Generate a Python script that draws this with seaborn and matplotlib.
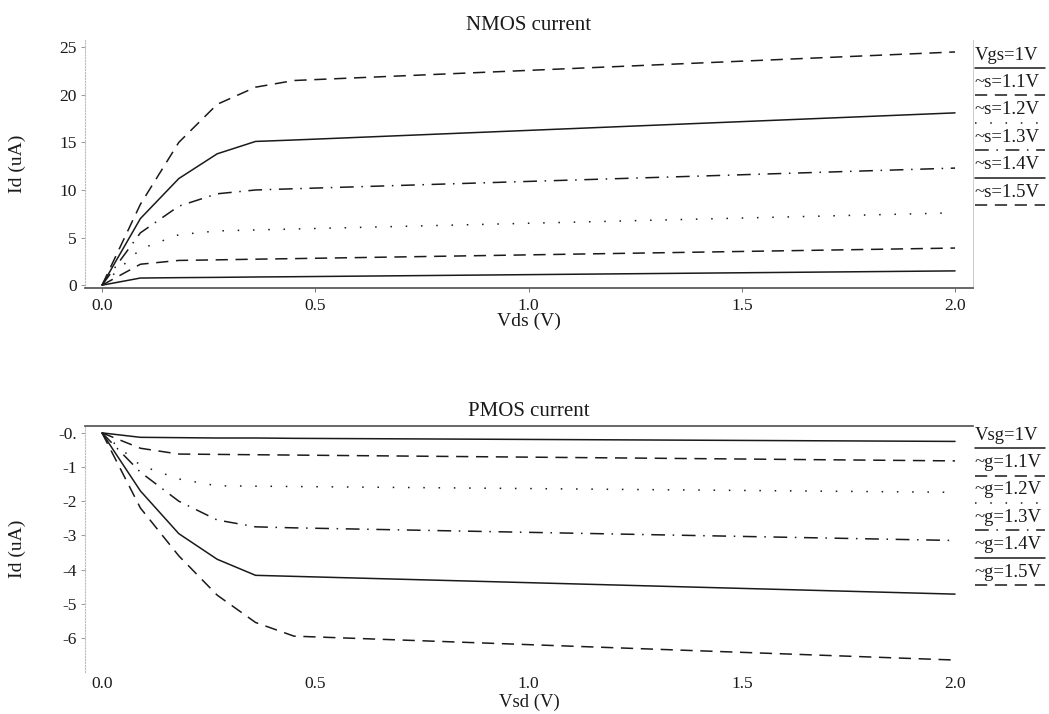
import numpy as np
import pandas as pd
import seaborn as sns
import matplotlib
matplotlib.use("Agg")
import matplotlib.pyplot as plt

# --- data ---
vd_points = [0.0, 0.09, 0.18, 0.27, 0.36, 0.45, 2.0]

# NMOS Id (uA) per Vgs
nmos_10 = [0, 0.75, 0.79, 0.82, 0.86, 0.89, 1.5]
nmos_11 = [0, 2.2, 2.6, 2.66, 2.73, 2.79, 3.9]
nmos_12 = [0, 3.8, 5.3, 5.7, 5.8, 5.9, 7.6]
nmos_13 = [0, 5.5, 8.3, 9.6, 10.0, 10.13, 12.3]
nmos_14 = [0, 7.0, 11.2, 13.8, 15.1, 15.25, 18.1]
nmos_15 = [0, 8.5, 15.0, 19.0, 20.8, 21.5, 24.5]

# PMOS Id (uA) per Vsg
pmos_10 = [0, -0.13, -0.14, -0.15, -0.15, -0.16, -0.25]
pmos_11 = [0, -0.45, -0.62, -0.63, -0.64, -0.65, -0.82]
pmos_12 = [0, -0.95, -1.35, -1.55, -1.56, -1.57, -1.74]
pmos_13 = [0, -1.15, -2.0, -2.55, -2.75, -2.78, -3.15]
pmos_14 = [0, -1.7, -2.95, -3.7, -4.17, -4.2, -4.72]
pmos_15 = [0, -2.2, -3.6, -4.75, -5.55, -5.95, -6.65]

nmos_labels = ["Vgs=1V", "~s=1.1V", "~s=1.2V", "~s=1.3V", "~s=1.4V", "~s=1.5V"]
pmos_labels = ["Vsg=1V", "~g=1.1V", "~g=1.2V", "~g=1.3V", "~g=1.4V", "~g=1.5V"]

x_ticks = [0.0, 0.5, 1.0, 1.5, 2.0]
nmos_yticks = [0, 5, 10, 15, 20, 25]
pmos_yticks = [0, -1, -2, -3, -4, -5, -6]
pmos_yticklabels = ["-0.", "-1", "-2", "-3", "-4", "-5", "-6"]

# line styles: solid, dashed, dotted, dash-dot, solid, dashed
dash_list = ["", (8, 5), (1, 9), (9, 5, 1, 5), "", (8, 5)]

sns.set_theme(style="white")
plt.rcParams["font.family"] = ["Liberation Serif", "DejaVu Serif"]
INK = "#1a1a1a"


def long_form(series, labels):
    rows = []
    for vals, lab in zip(series, labels):
        for x, y in zip(vd_points, vals):
            rows.append({"vd": x, "id": y, "curve": lab})
    return pd.DataFrame(rows)


def draw_key(ax, labels, y0, step, off):
    for i, lab in enumerate(labels):
        y = y0 - i * step
        ax.text(1.002, y, lab, transform=ax.transAxes, ha="left", va="center",
                fontsize=13.5, color=INK)
        ln, = ax.plot([1.002, 1.081], [y - off, y - off], transform=ax.transAxes,
                      clip_on=False, color=INK, lw=1.1)
        if dash_list[i]:
            ln.set_dashes(dash_list[i])


def style_axes(ax, xlabel, ylabel):
    ax.set_xlim(-0.04, 2.042)
    ax.set_xticks(x_ticks)
    ax.set_xticklabels([f"{t:.1f}" for t in x_ticks])
    ax.set_xlabel(xlabel, fontsize=14, color=INK)
    ax.set_ylabel(ylabel, fontsize=14, color=INK)
    ax.yaxis.set_label_coords(-0.066, 0.5)
    ax.tick_params(axis="both", labelsize=12.5, colors=INK)
    ax.tick_params(axis="y", length=3, width=0.7, pad=3, left=True, color="#999999")
    if ax.get_legend():
        ax.get_legend().remove()
    ax.spines["left"].set_color("#bbbbbb")
    ax.spines["left"].set_linestyle(":")
    ax.spines["left"].set_linewidth(0.8)


fig = plt.figure(figsize=(10.49, 7.14), dpi=100)
ax1 = fig.add_axes([0.081, 0.5966, 0.8465, 0.3473])
ax2 = fig.add_axes([0.081, 0.0588, 0.8465, 0.3445])

df_n = long_form([nmos_10, nmos_11, nmos_12, nmos_13, nmos_14, nmos_15], nmos_labels)
df_p = long_form([pmos_10, pmos_11, pmos_12, pmos_13, pmos_14, pmos_15], pmos_labels)

for ax, df, labels in [(ax1, df_n, nmos_labels), (ax2, df_p, pmos_labels)]:
    sns.lineplot(data=df, x="vd", y="id", style="curve", style_order=labels,
                 dashes=dict(zip(labels, dash_list)), color=INK, lw=1.1,
                 estimator=None, sort=False, ax=ax)

# --- top: NMOS ---
style_axes(ax1, "Vds (V)", "Id (uA)")
ax1.set_ylim(-0.3, 25.75)
ax1.set_yticks(nmos_yticks)
ax1.set_yticklabels([str(t) for t in nmos_yticks])
ax1.set_title("NMOS current", fontsize=15, color=INK, pad=7)
ax1.xaxis.set_label_coords(0.5, -0.10)
ax1.tick_params(axis="x", length=3, width=0.7, pad=4, bottom=True, color="#777777")
ax1.spines["top"].set_visible(False)
ax1.spines["bottom"].set_color("#555555")
ax1.spines["right"].set_color("#cccccc")
ax1.spines["right"].set_linewidth(0.7)
draw_key(ax1, nmos_labels, 0.9395, 0.1105, 0.052)

# --- bottom: PMOS ---
style_axes(ax2, "Vsd (V)", "Id (uA)")
ax2.set_ylim(-7.0, 0.2)
ax2.set_yticks(pmos_yticks)
ax2.set_yticklabels(pmos_yticklabels)
ax2.set_title("PMOS current", fontsize=15, color=INK, pad=7)
ax2.xaxis.set_label_coords(0.5, -0.088)
ax2.xaxis.label.set_fontsize(13.5)
ax2.tick_params(axis="x", length=0, pad=3)
ax2.spines["bottom"].set_visible(False)
ax2.spines["right"].set_visible(False)
ax2.spines["top"].set_color("#555555")
draw_key(ax2, pmos_labels, 0.963, 0.1114, 0.053)

fig.savefig("out.png", dpi=100)
